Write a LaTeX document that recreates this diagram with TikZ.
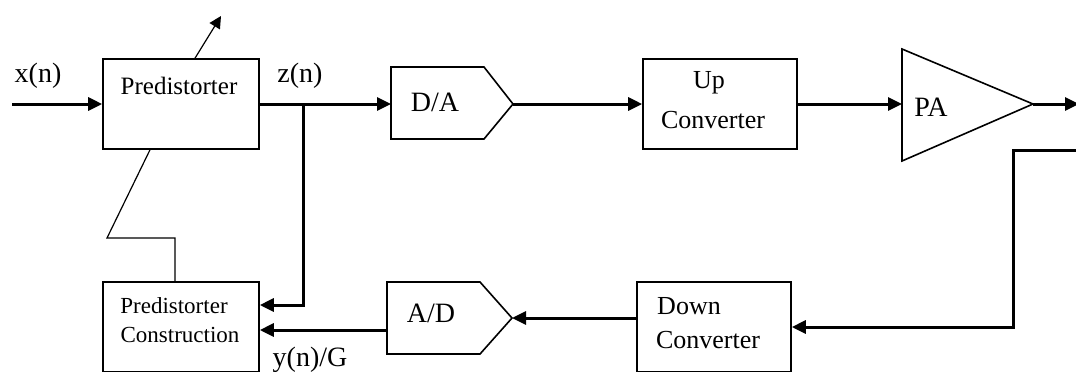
\documentclass[tikz,border=0pt]{standalone}
\usepackage{fontspec}
\setmainfont{Liberation Serif}
\usetikzlibrary{arrows.meta,calc}

\tikzset{
  blk/.style={draw,line width=0.8pt,inner sep=0pt,minimum width=78pt,minimum height=45pt},
  edge/.style={line width=0.8pt,line join=miter},
  sig/.style={line width=1.5pt,-{Triangle[length=7pt,width=6.5pt]}},
  link/.style={line width=0.6pt},
  lbl/.style={inner sep=0pt,font=\fontsize{14}{16}\selectfont},
  mid/.style={inner sep=0pt,font=\fontsize{13}{15}\selectfont},
  small/.style={inner sep=0pt,font=\fontsize{11.5}{13}\selectfont},
}

\begin{document}
\begin{tikzpicture}[x=0.5pt,y=-0.5pt]
  \clip (0,0) rectangle (1076,371);

  % forward path
  \coordinate (xin) at (12,104);
  \node[blk] (pre) at (181,104) {};
  \node[small,font=\fontsize{12.5}{14}\selectfont] (pre-t) at (179,86) {Predistorter};
  \node[lbl] (xl) at (38,76) {x(n)};
  \node[lbl] (zl) at (300,76) {z(n)};

  \coordinate (da-in) at (391,104);
  \coordinate (da-out) at (513,104);
  \draw[edge] (391,67) -- (484,67) -- (da-out) -- (484,139) -- (391,139) -- cycle;
  \node[lbl] (da) at (435,102) {D/A};

  \node[blk,minimum width=77pt] (upc) at (720,104) {};
  \node[mid] (upc-t1) at (709,83) {Up};
  \node[mid] (upc-t2) at (713,120) {Converter};

  \coordinate (pa-in) at (902,104);
  \coordinate (pa-out) at (1033,104);
  \draw[edge] (902,49) -- (pa-out) -- (902,161) -- cycle;
  \node[lbl] (pa) at (931,107) {PA};
  \coordinate (out) at (1079,104);

  \draw[sig] (xin) -- (pre.west);
  \draw[sig] (pre.east) -- (da-in);
  \draw[sig] (da-out) -- (upc.west);
  \draw[sig] (upc.east) -- (pa-in);
  \draw[sig] (pa-out) -- (out);

  % feedback path
  \node[blk,minimum width=77pt] (dnc) at (714,327) {};
  \node[mid] (dnc-t1) at (689,306) {Down};
  \node[mid] (dnc-t2) at (708,340) {Converter};

  \coordinate (ad-in) at (512,318);
  \coordinate (ad-out) at (387,330);
  \draw[edge] (387,282) -- (480,282) -- (ad-in) -- (480,354) -- (387,354) -- cycle;
  \node[lbl] (ad) at (431,313) {A/D};

  \node[blk] (pcon) at (181,327) {};
  \node[small] (pcon-t1) at (174,306) {Predistorter};
  \node[small] (pcon-t2) at (180,335) {Construction};
  \node[lbl] (yl) at (310,360) {y(n)/G};

  \coordinate (fb) at (1080,150);
  \coordinate (fc) at (1013,150);
  \draw[sig] (fb) -- (fc) |- (dnc.east);
  \draw[sig] (dnc.west |- ad-in) -- (ad-in);
  \draw[sig] (ad-out) -- (pcon.east |- ad-out);

  \coordinate (zb) at (303,104);
  \coordinate (zc) at (303,305);
  \draw[sig] (zb) -- (zc) -- (pcon.east |- zc);

  % adaptation link
  \draw[link] ([xshift=-15.5pt]pre.south) -- (107,238) -- (175,238) -- ([xshift=-3pt]pcon.north);
  \draw[link,-{Triangle[length=6pt,width=6pt]}] ([xshift=7pt]pre.north) -- (221,16);
\end{tikzpicture}
\end{document}
